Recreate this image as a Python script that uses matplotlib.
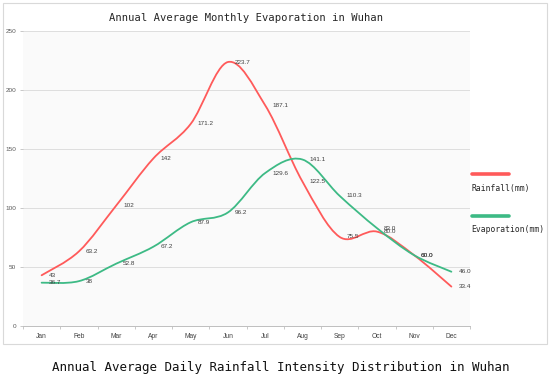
import matplotlib
matplotlib.use("Agg")
import matplotlib.pyplot as plt
from matplotlib.path import Path
from matplotlib.patches import PathPatch, Rectangle
from matplotlib.lines import Line2D
import numpy as np

months = ["Jan", "Feb", "Mar", "Apr", "May", "Jun", "Jul", "Aug", "Sep", "Oct", "Nov", "Dec"]
rainfall = [43, 63.2, 102, 142, 171.2, 223.7, 187.1, 122.5, 75.5, 80.0, 60.0, 33.4]
evaporation = [36.7, 38, 52.8, 67.2, 87.9, 96.2, 129.6, 141.1, 110.3, 83.0, 60.0, 46.0]
rain_labels = ["43", "63.2", "102", "142", "171.2", "223.7", "187.1", "122.5", "75.5", "80.0", "60.0", "33.4"]
evap_labels = ["36.7", "38", "52.8", "67.2", "87.9", "96.2", "129.6", "141.1", "110.3", "83.0", "60.0", "46.0"]
yticks = [0, 50, 100, 150, 200, 250]

title = "Annual Average Monthly Evaporation in Wuhan"
caption = "Annual Average Daily Rainfall Intensity Distribution in Wuhan"
series_names = ["Rainfall(mm)", "Evaporation(mm)"]

RED = "#FF5A5A"
GREEN = "#3DBA85"

W, H = 550, 376
fig = plt.figure(figsize=(W / 100, H / 100), dpi=100)
fig.patch.set_facecolor("white")

# chart frame
fig.add_artist(Rectangle((3 / W, 1 - 344 / H), 544 / W, 341 / H, transform=fig.transFigure,
                         facecolor="none", edgecolor="#D9D9D9", lw=0.8, zorder=-5))

ax = fig.add_axes([23 / W, 1 - 326 / H, 447 / W, 295 / H])
ax.set_facecolor("#FAFAFA")
x = np.arange(len(months))
ax.set_xlim(-0.5, len(months) - 0.5)
ax.set_ylim(0, 250)


def smooth_path(xs, ys):
    pts = np.column_stack([xs, ys]).astype(float)
    n = len(pts)
    verts = [pts[0]]
    codes = [Path.MOVETO]
    for i in range(n - 1):
        p0 = pts[i - 1] if i > 0 else pts[i]
        p1 = pts[i]
        p2 = pts[i + 1]
        p3 = pts[i + 2] if i + 2 < n else pts[i + 1]
        c1 = p1 + (p2 - p0) / 6.0
        c2 = p2 - (p3 - p1) / 6.0
        verts += [c1, c2, p2]
        codes += [Path.CURVE4] * 3
    return Path(verts, codes)


for vals, labels, col in [(rainfall, rain_labels, RED), (evaporation, evap_labels, GREEN)]:
    ax.add_patch(PathPatch(smooth_path(x, vals), facecolor="none", edgecolor=col, lw=1.3,
                           capstyle="round", zorder=3))
    for xi, v, lab in zip(x, vals, labels):
        ax.annotate(lab, (xi, v), xytext=(5, 0), textcoords="offset points", ha="left", va="center",
                    fontsize=4.6, color="#404040", family="Liberation Sans", zorder=4)

ax.set_yticks(yticks)
ax.set_yticklabels([str(t) for t in yticks], fontsize=4.6, color="#595959", family="Liberation Sans")
ax.grid(axis="y", color="#D9D9D9", lw=0.6)
ax.set_axisbelow(True)
ax.set_xticks(x)
ax.set_xticklabels(months, fontsize=4.8, color="#404040", family="Liberation Sans")
ax.set_xticks(np.arange(-0.5, len(months)), minor=True)
ax.tick_params(axis="x", which="major", length=0, pad=5)
ax.tick_params(axis="x", which="minor", length=2.5, color="#BFBFBF", width=0.6)
ax.tick_params(axis="y", length=2, color="#BFBFBF", width=0.6, pad=3)
for s in ["top", "right", "left"]:
    ax.spines[s].set_visible(False)
ax.spines["bottom"].set_color("#BFBFBF")
ax.spines["bottom"].set_linewidth(0.7)

# title
fig.text(246.5 / W, 1 - 18 / H, title, ha="center", va="center", fontsize=7.6,
         family="DejaVu Sans Mono", color="#262626")

# legend
for (y_line, y_text, name, col) in [(174, 189, series_names[0], RED), (216, 229, series_names[1], GREEN)]:
    fig.add_artist(Line2D([472 / W, 509 / W], [1 - y_line / H, 1 - y_line / H], transform=fig.transFigure,
                          color=col, lw=2.6, solid_capstyle="round"))
    fig.text(471 / W, 1 - y_text / H, name, ha="left", va="center", fontsize=5.8,
             family="DejaVu Sans Mono", color="#262626")

# caption
fig.text(281 / W, 1 - 367 / H, caption, ha="center", va="center", fontsize=9,
         family="DejaVu Sans Mono", color="#111111")

fig.savefig("out.png", dpi=100)
